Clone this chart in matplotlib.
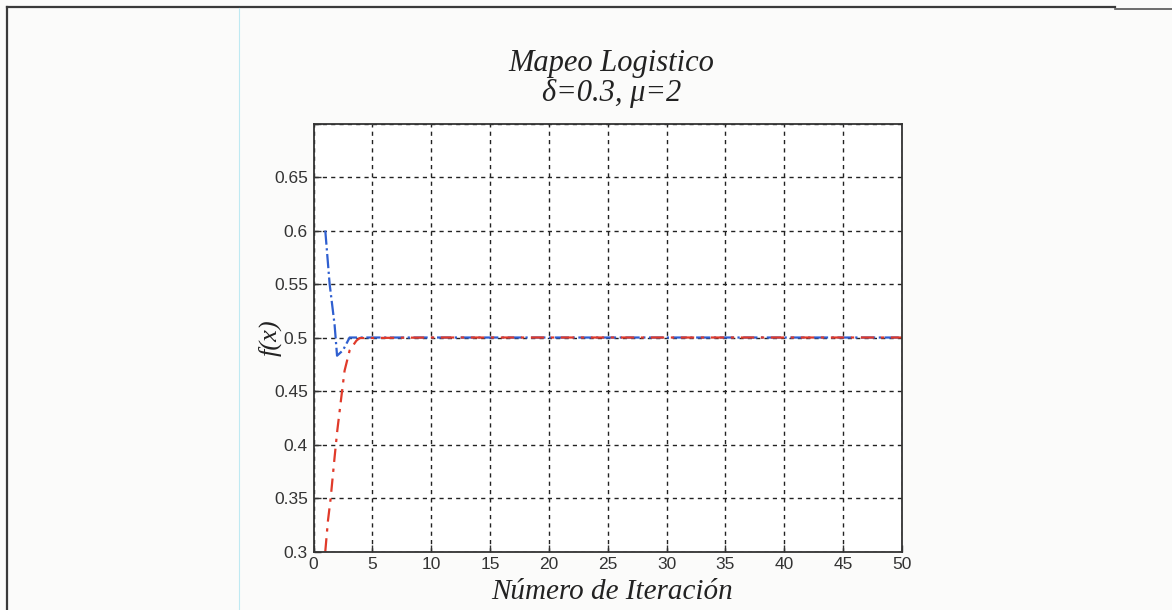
import numpy as np
import matplotlib
matplotlib.use("Agg")
import matplotlib.pyplot as plt
from matplotlib.lines import Line2D

# iteration values read for the two starting conditions
iter_blue = [1, 1.37, 1.79, 2.0, 2.5, 3.07, 4, 10, 20, 30, 40, 50]
fx_blue = [0.6, 0.55, 0.512, 0.483, 0.488, 0.5, 0.5, 0.5, 0.5, 0.5, 0.5, 0.5]

iter_red = [1, 1.23, 1.45, 1.79, 2.02, 2.36, 2.64, 3.07, 3.64, 3.92, 10, 20, 30, 40, 50]
fx_red = [0.3, 0.329, 0.349, 0.388, 0.413, 0.444, 0.469, 0.488, 0.497, 0.4995,
          0.5, 0.5, 0.5, 0.5, 0.5]

xticks = list(range(0, 51, 5))
yticks = [0.3, 0.35, 0.4, 0.45, 0.5, 0.55, 0.6, 0.65, 0.7]
yticklabels = ["0.3", "0.35", "0.4", "0.45", "0.5", "0.55", "0.6", "0.65", ""]

fig = plt.figure(figsize=(11.72, 6.1), dpi=100)
fig.patch.set_facecolor("#fbfbfa")

# page frame lines around the figure
fig.add_artist(Line2D([7 / 1172, 7 / 1172], [0, 1 - 7 / 610], transform=fig.transFigure,
                      color="#3a3a3a", lw=1.6))
fig.add_artist(Line2D([7 / 1172, 1115 / 1172], [1 - 7 / 610, 1 - 7 / 610],
                      transform=fig.transFigure, color="#3a3a3a", lw=1.6))
fig.add_artist(Line2D([1115 / 1172, 1], [1 - 9 / 610, 1 - 9 / 610],
                      transform=fig.transFigure, color="#555555", lw=1.2))
fig.add_artist(Line2D([239 / 1172, 239 / 1172], [0, 1 - 8 / 610], transform=fig.transFigure,
                      color="#bfe9f2", lw=0.8))

ax = fig.add_axes([0.2675, 0.0959, 0.5021, 0.7016])
ax.set_facecolor("white")

ax.plot(iter_blue, fx_blue, color="#2f5fd0", ls="-.", lw=1.6)
ax.plot(iter_red, fx_red, color="#e03a2a", ls="-.", lw=1.6, dashes=(6, 3, 1.5, 3))

ax.set_xlim(0, 50)
ax.set_ylim(0.3, 0.7)
ax.set_xticks(xticks)
ax.set_yticks(yticks)
ax.set_yticklabels(yticklabels)
ax.grid(True, color="#222222", ls=(0, (3, 3)), lw=1.0)
ax.tick_params(direction="in", length=5, width=1, colors="#333333",
               labelsize=12.5, pad=4)
for lab in ax.get_xticklabels() + ax.get_yticklabels():
    lab.set_fontfamily("Liberation Sans")
for s in ax.spines.values():
    s.set_color("#333333")
    s.set_linewidth(1.3)

serif = dict(family="Liberation Serif", style="italic", color="#222222")
fig.text(0.522, 1 - 63 / 610, "Mapeo Logistico", ha="center", va="center", fontsize=22, **serif)
fig.text(0.522, 1 - 94 / 610, "δ=0.3, μ=2", ha="center", va="center", fontsize=22, **serif)
fig.text(0.522, 1 - 592 / 610, "Número de Iteración", ha="center", va="center",
         fontsize=21, **serif)
fig.text(270 / 1172, 1 - 338 / 610, "f(x)", ha="center", va="center", rotation=90,
         fontsize=19, **serif)

fig.savefig("out.png", dpi=100, facecolor=fig.get_facecolor())
